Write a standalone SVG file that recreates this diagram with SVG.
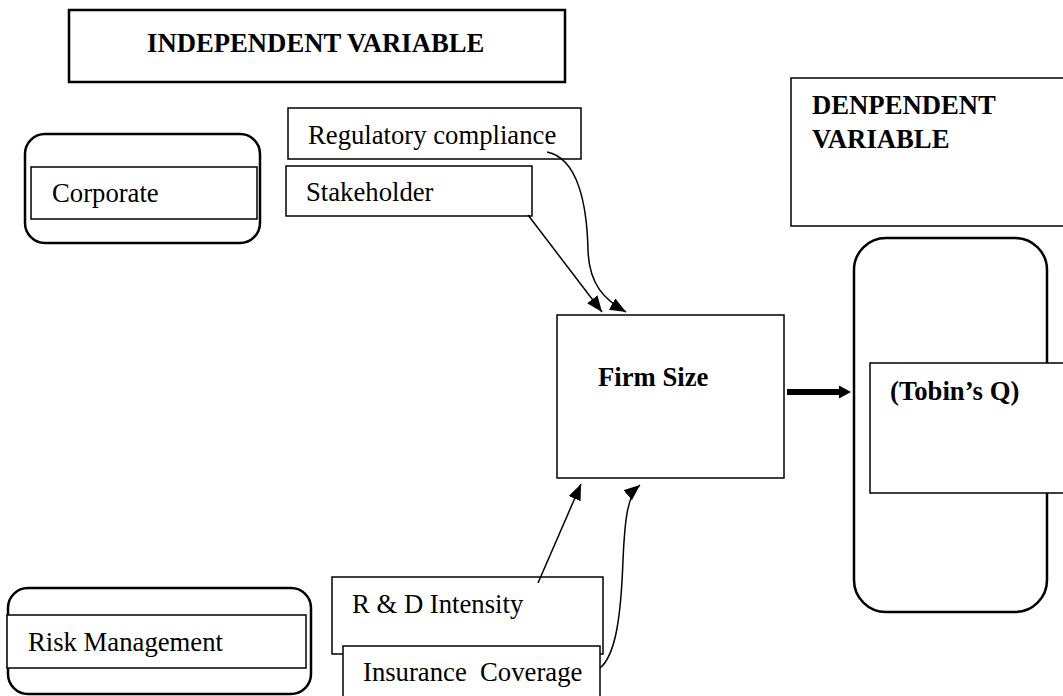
<svg xmlns="http://www.w3.org/2000/svg" width="1063" height="696" viewBox="0 0 1063 696">
<style>
.t{font-family:"Liberation Serif","Times New Roman",serif;font-size:26.7px;fill:#000}
.b{font-weight:bold}
.box{fill:#fff;stroke:#000;stroke-width:1.5}
.thick{fill:#fff;stroke:#000;stroke-width:2.5}
.con{fill:none;stroke:#000;stroke-width:1.5}
</style>
<defs>
<marker id="ah" markerUnits="userSpaceOnUse" markerWidth="17" markerHeight="14" refX="16" refY="6.5" orient="auto">
<path d="M0,0 L16,6.5 L0,13 Z" fill="#000"/>
</marker>
<marker id="ahb" markerUnits="userSpaceOnUse" markerWidth="13" markerHeight="15" refX="2" refY="7.5" orient="auto">
<path d="M0,1 L12,7.5 L0,14 Z" fill="#000"/>
</marker>
</defs>
<rect width="1063" height="696" fill="#fff"/>
<g id="title-independent">
<rect class="thick" x="69" y="10" width="496" height="72"/>
<text class="t b" x="147" y="52">INDEPENDENT VARIABLE</text>
</g>
<g id="title-dependent">
<rect class="box" x="791" y="78" width="290" height="148"/>
<text class="t b" x="812" y="114">DENPENDENT</text>
<text class="t b" x="812" y="148">VARIABLE</text>
</g>
<g id="corporate">
<rect class="thick" x="25" y="134" width="235" height="109" rx="20"/>
<rect class="box" x="31" y="167" width="226" height="52"/>
<text class="t" x="52" y="202">Corporate</text>
</g>
<g id="regulatory">
<rect class="box" x="288" y="108" width="293" height="51"/>
<text class="t" x="308" y="144">Regulatory compliance</text>
</g>
<g id="stakeholder">
<rect class="box" x="286" y="166" width="246" height="50"/>
<text class="t" x="306" y="201">Stakeholder</text>
</g>
<g id="firm-size">
<rect class="box" x="557" y="315" width="227" height="163"/>
<text class="t b" x="598" y="386">Firm Size</text>
</g>
<g id="tobins-q">
<rect class="thick" x="854" y="238" width="193" height="374" rx="32"/>
<rect class="box" x="870" y="363" width="210" height="130"/>
<text class="t b" x="890" y="400">(Tobin’s Q)</text>
</g>
<g id="risk-management">
<rect class="thick" x="8" y="588" width="303" height="106" rx="20"/>
<rect class="box" x="7" y="615" width="299" height="53"/>
<text class="t" x="28" y="651">Risk Management</text>
</g>
<g id="rd-intensity">
<rect class="box" x="332" y="577" width="271" height="77"/>
<text class="t" x="352" y="613">R &amp; D Intensity</text>
</g>
<g id="insurance-coverage">
<rect class="box" x="343" y="646" width="257" height="60"/>
<text class="t" x="363" y="681" xml:space="preserve">Insurance  Coverage</text>
</g>
<g id="connectors">
<path class="con" d="M528,215 L602,312" marker-end="url(#ah)"/>
<path class="con" d="M547,152 C578,158 587,205 588,250 C589,285 605,300 626,312" marker-end="url(#ah)"/>
<path class="con" d="M538,583 L581,484" marker-end="url(#ah)"/>
<path class="con" d="M600,668 C616,655 621,615 623,560 C625,515 628,495 640,485" marker-end="url(#ah)"/>
<path d="M787,392 L841,392" stroke="#000" stroke-width="6" fill="none" marker-end="url(#ahb)"/>
</g>
</svg>
